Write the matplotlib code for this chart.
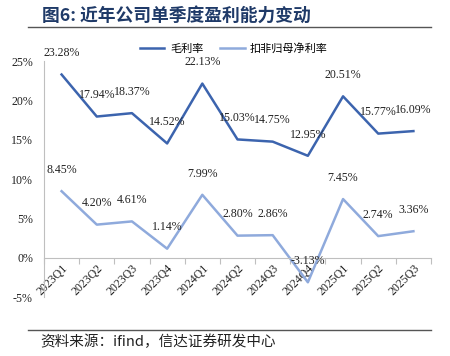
import matplotlib.pyplot as plt
import matplotlib.lines as mlines
from matplotlib.ticker import FixedLocator, FuncFormatter

plt.rcParams['font.family'] = ['Liberation Serif', 'Noto Sans CJK SC']

quarters = ['2023Q1', '2023Q2', '2023Q3', '2023Q4', '2024Q1', '2024Q2',
            '2024Q3', '2024Q4', '2025Q1', '2025Q2', '2025Q3']
gross_margin = [23.28, 17.94, 18.37, 14.52, 22.13, 15.03, 14.75, 12.95, 20.51, 15.77, 16.09]
net_margin = [8.45, 4.20, 4.61, 1.14, 7.99, 2.80, 2.86, -3.13, 7.45, 2.74, 3.36]
series_names = ['毛利率', '扣非归母净利率']
yticks = [-5, 0, 5, 10, 15, 20, 25]

colors = ['#3C64AE', '#8FAADC']
cjk = ['Noto Sans CJK SC', 'DejaVu Sans']

fig = plt.figure(figsize=(4.5, 3.56), dpi=100)
ax = fig.add_axes([44 / 450, 59 / 356, 387 / 450, 236 / 356])

# spine position first: it resets the tick objects
for s in ['top', 'right']:
    ax.spines[s].set_visible(False)
ax.spines['bottom'].set_position(('data', 0))
ax.spines['bottom'].set_color('#BFBFBF')
ax.spines['left'].set_color('#BFBFBF')

x = list(range(len(quarters)))
for vals, c in zip([gross_margin, net_margin], colors):
    ax.plot(x, vals, color=c, lw=1.8)
    for xi, v in zip(x, vals):
        ax.annotate(f'{v:.2f}%', (xi, v), xytext=(0, 11), textcoords='offset points',
                    ha='center', va='bottom', fontsize=8.6, color='#222222')

ax.set_xlim(-0.5, len(quarters) - 0.5)
ax.set_ylim(-5, 25)
ax.set_yticks(yticks)
ax.yaxis.set_major_formatter(FuncFormatter(lambda v, p: f'{v:.0f}%'))
ax.tick_params(axis='y', length=0, pad=8, labelsize=8.6, colors='#222222')

ax.set_xticks(x)
ax.set_xticklabels(quarters)
ax.tick_params(axis='x', which='major', length=0, pad=3, labelsize=8.6, colors='#222222')
ax.xaxis.set_minor_locator(FixedLocator([i + 0.5 for i in range(-1, len(quarters))]))
ax.tick_params(axis='x', which='minor', length=4, color='#BFBFBF', width=0.8)
for lbl in ax.get_xticklabels():
    lbl.set_rotation(45)
    lbl.set_ha('right')
    lbl.set_va('top')
    lbl.set_rotation_mode('anchor')

handles = [mlines.Line2D([], [], color=c, lw=1.8) for c in colors]
fig.legend(handles, series_names, loc='center', bbox_to_anchor=(0.52, 0.865), ncol=2,
           frameon=False, prop={'family': cjk, 'size': 8}, handlelength=2.2,
           columnspacing=1.5, handletextpad=0.5)

fig.text(42 / 450, 1 - 16 / 356, '图6: 近年公司单季度盈利能力变动', family=cjk,
         fontsize=12.8, fontweight='bold', color='#1F3A68', va='center', ha='left')
fig.add_artist(mlines.Line2D([28 / 450, 431 / 450], [1 - 27 / 356] * 2, color='#555555', lw=1))
fig.add_artist(mlines.Line2D([28 / 450, 431 / 450], [1 - 330 / 356] * 2, color='#555555', lw=1))
fig.text(40 / 450, 1 - 342 / 356, '资料来源：ifind，信达证券研发中心', family=cjk,
         fontsize=10.5, style='italic', color='#222222', va='center', ha='left')

fig.savefig('out.png', dpi=100)
